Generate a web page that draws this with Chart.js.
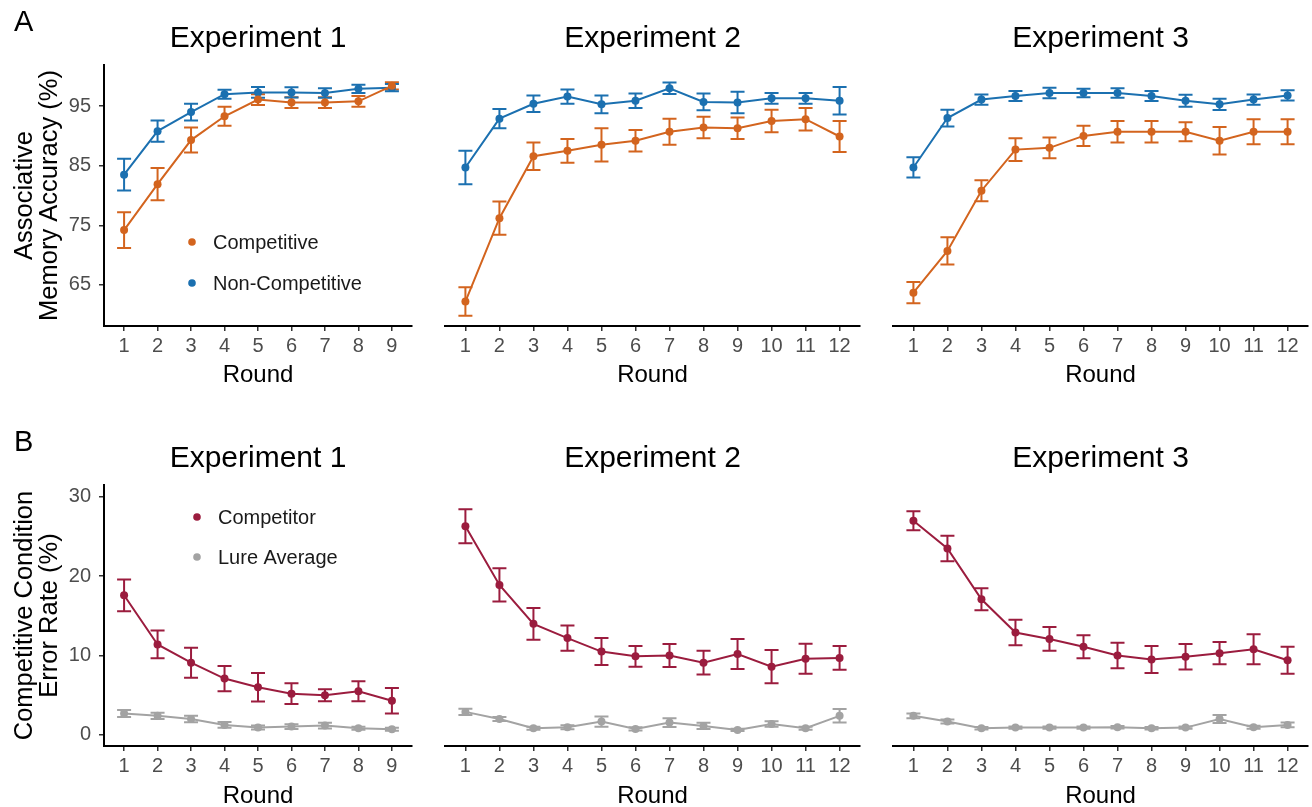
<!DOCTYPE html>
<html><head><meta charset="utf-8">
<script src="https://cdn.jsdelivr.net/npm/chart.js@4.4.1/dist/chart.umd.min.js"></script>
<style>
html,body{margin:0;padding:0;background:#fff;overflow:hidden;width:1312px;height:807px;}
.c{position:absolute;}
</style></head><body>
<div class="c" style="left:0;top:0;width:430px;height:400px"><canvas id="a1"></canvas></div>
<div class="c" style="left:430px;top:0;width:440px;height:400px"><canvas id="a2"></canvas></div>
<div class="c" style="left:870px;top:0;width:442px;height:400px"><canvas id="a3"></canvas></div>
<div class="c" style="left:0;top:400px;width:430px;height:407px"><canvas id="b1"></canvas></div>
<div class="c" style="left:430px;top:400px;width:440px;height:407px"><canvas id="b2"></canvas></div>
<div class="c" style="left:870px;top:400px;width:442px;height:407px"><canvas id="b3"></canvas></div>
<script>
// ---------- DATA ----------
const rounds9  = [1,2,3,4,5,6,7,8,9];
const rounds12 = [1,2,3,4,5,6,7,8,9,10,11,12];
const accTicks = [65,75,85,95];
const errTicks = [0,10,20,30];

// Panel A: associative memory accuracy (%)
const e1Comp    = [74.2,81.9,89.3,93.3,96.1,95.6,95.6,95.8,98.4];
const e1CompSE  = [3.0,2.7,2.1,1.6,0.9,0.9,0.9,0.9,0.6];
const e1Non     = [83.5,90.8,94.0,97.0,97.3,97.3,97.2,97.9,98.1];
const e1NonSE   = [2.65,1.8,1.4,0.75,0.9,0.85,0.8,0.7,0.6];

const e2Comp    = [62.2,76.2,86.6,87.5,88.5,89.2,90.7,91.4,91.3,92.5,92.8,89.9];
const e2CompSE  = [2.4,2.8,2.3,2.0,2.8,1.8,2.2,1.8,1.8,1.9,1.9,2.6];
const e2Non     = [84.7,92.9,95.4,96.6,95.3,95.9,98.0,95.7,95.6,96.3,96.3,95.9];
const e2NonSE   = [2.8,1.6,1.4,1.2,1.5,1.2,0.95,1.4,1.8,0.9,0.9,2.3];

const e3Comp    = [63.7,70.7,80.8,87.7,88.0,90.0,90.7,90.7,90.7,89.2,90.7,90.7];
const e3CompSE  = [1.8,2.3,1.75,1.9,1.75,1.7,1.8,1.8,1.6,2.3,2.1,2.1];
const e3Non     = [84.7,93.0,96.1,96.7,97.2,97.2,97.2,96.7,95.9,95.3,96.1,96.8];
const e3NonSE   = [1.7,1.4,0.85,0.85,0.9,0.7,0.8,0.85,1.0,0.95,0.85,0.85];

// Panel B: competitive condition error rate (%)
const e1Competitor   = [17.6,11.4,9.1,7.1,6.0,5.2,5.0,5.5,4.3];
const e1CompetitorSE = [2.0,1.75,1.9,1.6,1.8,1.3,0.75,1.25,1.6];
const e1Lure         = [2.7,2.4,2.0,1.26,0.92,1.05,1.17,0.84,0.71];
const e1LureSE       = [0.45,0.4,0.4,0.35,0.25,0.3,0.35,0.2,0.2];

const e2Competitor   = [26.3,18.9,14.0,12.2,10.5,9.9,10.0,9.1,10.2,8.6,9.6,9.7];
const e2CompetitorSE = [2.15,2.1,2.0,1.6,1.7,1.3,1.45,1.5,1.9,2.1,1.9,1.5];
const e2Lure         = [2.9,2.0,0.84,0.96,1.68,0.75,1.55,1.13,0.63,1.38,0.84,2.4];
const e2LureSE       = [0.4,0.25,0.2,0.25,0.65,0.2,0.55,0.4,0.15,0.35,0.2,0.85];

const e3Competitor   = [27.0,23.5,17.1,12.9,12.1,11.1,10.0,9.5,9.85,10.3,10.8,9.4];
const e3CompetitorSE = [1.2,1.6,1.4,1.6,1.5,1.45,1.6,1.7,1.6,1.4,1.9,1.7];
const e3Lure         = [2.4,1.68,0.84,0.92,0.92,0.92,0.96,0.84,0.92,2.0,0.96,1.26];
const e3LureSE       = [0.3,0.25,0.15,0.15,0.15,0.15,0.15,0.15,0.15,0.5,0.2,0.3];

// ---------- STYLE ----------
const FONT = "'Liberation Sans', Arial, Helvetica, sans-serif";
Chart.defaults.font.family = FONT;
Chart.defaults.animation = false;
const C_COMP = '#d3641e', C_NON = '#1b70b0', C_CMPTR = '#9b1c3e', C_LURE = '#a3a3a3';

const errorBarPlugin = {
  id: 'errorBars',
  beforeDatasetsDraw(chart) {
    const {ctx} = chart; const xs = chart.scales.x, ys = chart.scales.y;
    chart.data.datasets.forEach(ds => {
      if (!ds.err) return;
      ctx.save();
      ctx.strokeStyle = ds.borderColor; ctx.lineWidth = 2;
      ds.data.forEach((p, i) => {
        const x = xs.getPixelForValue(p.x);
        const y1 = ys.getPixelForValue(p.y + ds.err[i]);
        const y2 = ys.getPixelForValue(p.y - ds.err[i]);
        const w = 7;
        ctx.beginPath();
        ctx.moveTo(x, y1); ctx.lineTo(x, y2);
        ctx.moveTo(x - w, y1); ctx.lineTo(x + w, y1);
        ctx.moveTo(x - w, y2); ctx.lineTo(x + w, y2);
        ctx.stroke();
      });
      ctx.restore();
    });
  }
};

const legendPlugin = {
  id: 'panelLegend',
  afterDraw(chart, args, opts) {
    if (!opts || !opts.show) return;
    const {ctx, chartArea} = chart;
    ctx.save();
    ctx.font = '20px ' + FONT;
    ctx.textBaseline = 'middle';
    chart.data.datasets.forEach((ds, i) => {
      const x = chartArea.left + opts.dx, y = chartArea.top + opts.dy + i * opts.gap;
      ctx.fillStyle = ds.borderColor;
      ctx.beginPath(); ctx.arc(x, y, 3.8, 0, Math.PI * 2); ctx.fill();
      ctx.fillStyle = '#1a1a1a';
      ctx.fillText(ds.label, x + 21, y + 1);
    });
    ctx.restore();
  }
};

// Panel title centred over the plotting area, plus the A / B tag
const headPlugin = {
  id: 'panelHead',
  afterDraw(chart, args, opts) {
    const {ctx, chartArea} = chart;
    ctx.save();
    ctx.fillStyle = '#000';
    ctx.textBaseline = 'alphabetic';
    if (opts.title) {
      ctx.font = '30px ' + FONT;
      ctx.textAlign = 'center';
      ctx.fillText(opts.title, (chartArea.left + chartArea.right) / 2, opts.titleY);
    }
    if (opts.tag) {
      ctx.font = '29px ' + FONT;
      ctx.textAlign = 'left';
      ctx.fillText(opts.tag, 14, opts.tagY);
    }
    ctx.restore();
  }
};

function pts(xs, ys) { return xs.map((x, i) => ({x, y: ys[i]})); }

function makePanel(id, cfg) {
  const n = cfg.rounds.length;
  const datasets = cfg.series.map(s => ({
    label: s.label,
    data: pts(cfg.rounds, s.values),
    err: s.err,
    borderColor: s.color,
    backgroundColor: s.color,
    pointBackgroundColor: s.color,
    pointBorderWidth: 0,
    pointRadius: 4,
    borderWidth: 2,
    tension: 0,
  }));
  new Chart(document.getElementById(id), {
    type: 'line',
    data: {datasets},
    options: {
      responsive: true, maintainAspectRatio: false,
      layout: {padding: {left: cfg.padL, right: cfg.padR, top: cfg.padT, bottom: 0}},
      plugins: {
        legend: {display: false}, tooltip: {enabled: false}, title: {display: false},
        panelLegend: cfg.legend || {show: false},
        panelHead: {title: cfg.title, titleY: cfg.titleY, tag: cfg.tag, tagY: cfg.tagY},
      },
      scales: {
        x: {
          type: 'linear', min: 0.4, max: n + 0.6,
          afterBuildTicks: s => { s.ticks = cfg.rounds.map(v => ({value: v})); },
          afterFit: s => { s.height = cfg.xH; s.paddingLeft = 0; s.paddingRight = 0; },
          ticks: {color: '#4d4d4d', font: {size: 20}, padding: 3, maxRotation: 0, autoSkip: false},
          grid: {display: true, drawOnChartArea: false, drawTicks: true, tickLength: 5, color: '#333', lineWidth: 1.5},
          border: {display: true, color: '#000', width: 2},
          title: {display: true, text: 'Round', color: '#000', font: {size: 24, lineHeight: 0.9},
                  padding: {top: 0, bottom: cfg.xTitleBottom}},
        },
        y: {
          type: 'linear', min: cfg.yMin, max: cfg.yMax,
          display: cfg.showY,
          afterBuildTicks: s => { s.ticks = cfg.yTicks.map(v => ({value: v})); },
          afterFit: s => { s.width = cfg.showY ? 104 : 0; s.paddingTop = 0; s.paddingBottom = 0; },
          ticks: {color: '#4d4d4d', font: {size: 20}, padding: 8},
          grid: {display: true, drawOnChartArea: false, drawTicks: true, tickLength: 5, color: '#333', lineWidth: 1.5},
          border: {display: true, color: '#000', width: 2},
          title: {display: !!cfg.yTitle, text: cfg.yTitle, color: '#000', font: {size: 25.5, lineHeight: 0.96},
                  padding: {top: 13, bottom: 0}},
        }
      }
    },
    plugins: [errorBarPlugin, legendPlugin, headPlugin]
  });
}

const topRow = {yMin: 58.1, yMax: 101.9, yTicks: accTicks, padT: 65, titleY: 47, tagY: 31, xH: 74, xTitleBottom: 14};
const botRow = {yMin: -1.4, yMax: 31.5, yTicks: errTicks, padT: 85, titleY: 67, tagY: 51, xH: 61, xTitleBottom: 0};

makePanel('a1', Object.assign({}, topRow, {
  title: 'Experiment 1', rounds: rounds9, showY: true, padL: 0, padR: 18,
  yTitle: ['Associative', 'Memory Accuracy (%)'],
  legend: {show: true, dx: 88, dy: 177, gap: 41},
  tag: 'A',
  series: [
    {label: 'Competitive', values: e1Comp, err: e1CompSE, color: C_COMP},
    {label: 'Non-Competitive', values: e1Non, err: e1NonSE, color: C_NON},
  ]}));
makePanel('a2', Object.assign({}, topRow, {
  title: 'Experiment 2', rounds: rounds12, showY: false, padL: 15, padR: 10,
  series: [
    {label: 'Competitive', values: e2Comp, err: e2CompSE, color: C_COMP},
    {label: 'Non-Competitive', values: e2Non, err: e2NonSE, color: C_NON},
  ]}));
makePanel('a3', Object.assign({}, topRow, {
  title: 'Experiment 3', rounds: rounds12, showY: false, padL: 23, padR: 4,
  series: [
    {label: 'Competitive', values: e3Comp, err: e3CompSE, color: C_COMP},
    {label: 'Non-Competitive', values: e3Non, err: e3NonSE, color: C_NON},
  ]}));
makePanel('b1', Object.assign({}, botRow, {
  title: 'Experiment 1', rounds: rounds9, showY: true, padL: 0, padR: 18,
  yTitle: ['Competitive Condition', 'Error Rate (%)'],
  legend: {show: true, dx: 93, dy: 32, gap: 40},
  tag: 'B',
  series: [
    {label: 'Competitor', values: e1Competitor, err: e1CompetitorSE, color: C_CMPTR},
    {label: 'Lure Average', values: e1Lure, err: e1LureSE, color: C_LURE},
  ]}));
makePanel('b2', Object.assign({}, botRow, {
  title: 'Experiment 2', rounds: rounds12, showY: false, padL: 15, padR: 10,
  series: [
    {label: 'Competitor', values: e2Competitor, err: e2CompetitorSE, color: C_CMPTR},
    {label: 'Lure Average', values: e2Lure, err: e2LureSE, color: C_LURE},
  ]}));
makePanel('b3', Object.assign({}, botRow, {
  title: 'Experiment 3', rounds: rounds12, showY: false, padL: 23, padR: 4,
  series: [
    {label: 'Competitor', values: e3Competitor, err: e3CompetitorSE, color: C_CMPTR},
    {label: 'Lure Average', values: e3Lure, err: e3LureSE, color: C_LURE},
  ]}));
</script>
</body></html>
